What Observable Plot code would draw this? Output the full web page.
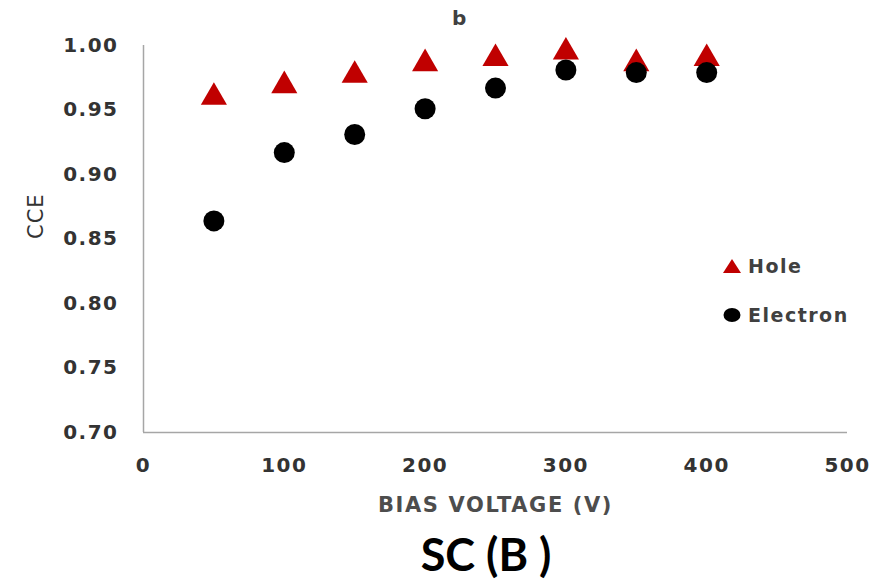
<!DOCTYPE html>
<html><head><meta charset="utf-8">
<script src="https://cdn.jsdelivr.net/npm/d3@7"></script>
<script src="https://cdn.jsdelivr.net/npm/@observablehq/plot@0.6"></script>
<style>
body{margin:0;background:#fff;}
#wrap{position:relative;width:881px;height:582px;overflow:hidden;background:#fff;}
#chart svg [aria-label="x-axis tick label"] text,
#chart svg [aria-label="y-axis tick label"] text{letter-spacing:1.5px;}
.title{position:absolute;left:452px;top:6px;font:bold 20px "DejaVu Sans";color:#404040;}
.caption{position:absolute;left:0;width:972px;text-align:center;top:526px;font:bold 45px Lato;color:#000;line-height:56px;}
.legend{position:absolute;left:722px;font:bold 19px "DejaVu Sans";color:#404040;letter-spacing:1.5px;display:flex;align-items:center;}
.legend svg{margin-right:6px;}
</style></head><body>
<div id="wrap">
<div id="chart"></div>
<div class="title" id="title"></div>
<div id="legend"></div>
<div class="caption" id="caption"></div>
</div>
<script>
const chartTitle = "b";
const caption = "SC (B )";
const xTitle = "BIAS VOLTAGE (V)";
const yTitle = "CCE";
const voltage = [50, 100, 150, 200, 250, 300, 350, 400];
const holeCCE = [0.963, 0.972, 0.980, 0.989, 0.993, 0.998, 0.989, 0.993];
const electronCCE = [0.864, 0.917, 0.931, 0.951, 0.967, 0.981, 0.979, 0.979];
const xTicks = [0, 100, 200, 300, 400, 500];
const yTicks = [0.70, 0.75, 0.80, 0.85, 0.90, 0.95, 1.00];
const seriesNames = ["Hole", "Electron"];
const seriesColors = ["#C00000", "#000000"];

const holeData = voltage.map((v, i) => ({v, cce: holeCCE[i]}));
const electronData = voltage.map((v, i) => ({v, cce: electronCCE[i]}));

const plot = Plot.plot({
  width: 881,
  height: 525,
  marginTop: 45,
  marginBottom: 93,
  marginLeft: 143,
  marginRight: 34,
  style: {background: "white", color: "#333333", fontFamily: "DejaVu Sans", fontSize: "20px"},
  x: {domain: [0, 500]},
  y: {domain: [0.70, 1.00]},
  marks: [
    Plot.ruleX([0], {stroke: "#a6a6a6", strokeWidth: 1.5}),
    Plot.ruleY([0.70], {stroke: "#a6a6a6", strokeWidth: 1.5}),
    Plot.axisX({ticks: xTicks, tickSize: 0, tickPadding: 25, label: null, fontWeight: "bold", tickFormat: d => String(d)}),
    Plot.axisY({ticks: yTicks, tickSize: 0, tickPadding: 25, label: null, fontWeight: "bold", tickFormat: d => d.toFixed(2)}),
    Plot.text([xTitle], {frameAnchor: "bottom", dy: 73, lineAnchor: "middle", text: d => d, fontWeight: "bold", fontSize: 21, fill: "#4d4d4d"}),
    Plot.text([yTitle], {frameAnchor: "left", dx: -107, rotate: -90, lineAnchor: "middle", text: d => d, fontSize: 21, fill: "#333333"}),
    Plot.dot(holeData, {x: "v", y: "cce", symbol: "triangle", r: 9.7, dy: 4, fill: seriesColors[0], stroke: "none"}),
    Plot.dot(electronData, {x: "v", y: "cce", symbol: "circle", r: 10.5, fill: seriesColors[1], stroke: "none"})
  ]
});
d3.select(plot).selectAll('g[aria-label="text"] text').each(function() {
  const t = this.textContent;
  if (t === xTitle) this.style.letterSpacing = "1.6px";
  if (t === yTitle) this.style.letterSpacing = "1px";
});
document.getElementById("chart").appendChild(plot);
document.getElementById("title").textContent = chartTitle;
document.getElementById("caption").textContent = caption;

const legend = document.getElementById("legend");
const legendTops = [254, 303];
seriesNames.forEach((name, i) => {
  const item = document.createElement("div");
  item.className = "legend";
  item.style.top = legendTops[i] + "px";
  const sym = i === 0
    ? `<svg width="20" height="24"><path d="M10 5 L19 19 L1 19 Z" fill="${seriesColors[i]}"/></svg>`
    : `<svg width="20" height="24"><ellipse cx="10" cy="12" rx="8.5" ry="7" fill="${seriesColors[i]}"/></svg>`;
  item.innerHTML = sym + `<span>${name}</span>`;
  legend.appendChild(item);
});
</script>
</body></html>
